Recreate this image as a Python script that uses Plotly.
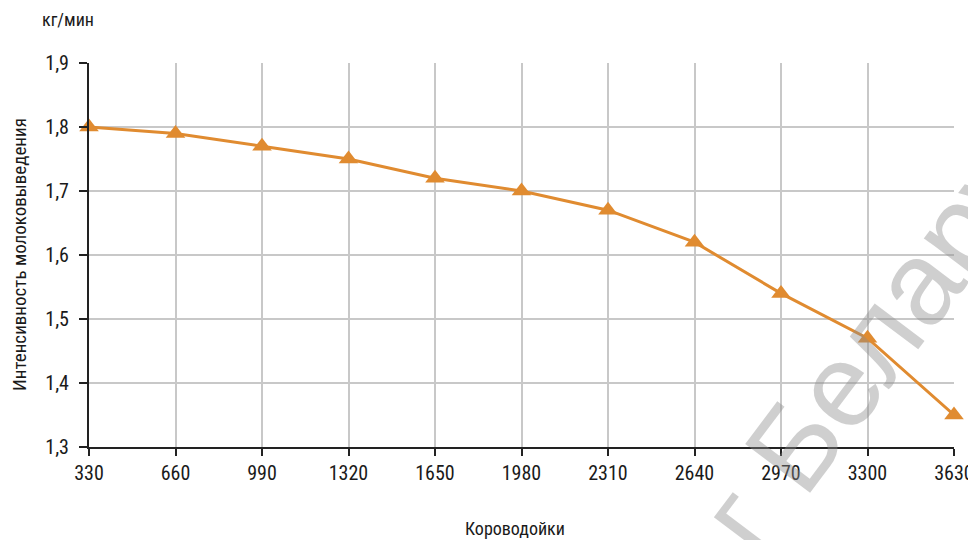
import plotly.graph_objects as go

categories = [330, 660, 990, 1320, 1650, 1980, 2310, 2640, 2970, 3300, 3630]
values = [1.80, 1.79, 1.77, 1.75, 1.72, 1.70, 1.67, 1.62, 1.54, 1.47, 1.35]
y_ticks = [1.3, 1.4, 1.5, 1.6, 1.7, 1.8, 1.9]

FONT = "Liberation Sans Narrow, Roboto Condensed, Arial Narrow, Roboto, sans-serif"
ORANGE = "#E08B30"

# the page body adds an 8px offset, so the figure is laid out 8px smaller
OFF = 8
W, H = 976 - OFF, 540 - OFF
L, R, T, B = 89 - OFF, 22, 63 - OFF, 93
ph = H - T - B
pw = W - L - R


def px(x):
    return (x - OFF - L) / pw


def py(y):
    return (H - B - (y - OFF)) / ph


fig = go.Figure()
fig.add_trace(go.Scatter(
    x=categories, y=values, mode="lines+markers",
    line=dict(color=ORANGE, width=3),
    marker=dict(symbol="triangle-up", size=17, color=ORANGE),
    cliponaxis=False, showlegend=False,
))

fig.update_layout(
    width=W, height=H,
    margin=dict(l=L, r=R, t=T, b=B, autoexpand=False),
    paper_bgcolor="white", plot_bgcolor="white",
    font=dict(family=FONT, size=20, color="#1a1a1a"),
    xaxis=dict(
        range=[330, 3630], tickvals=categories, ticktext=[str(c) for c in categories],
        showgrid=True, gridcolor="#c8c8c8", gridwidth=2,
        showline=True, linecolor="#222222", linewidth=2,
        ticks="outside", ticklen=7, tickwidth=2, tickcolor="#222222",
        zeroline=False, automargin=False,
    ),
    yaxis=dict(
        range=[1.3, 1.9], tickvals=y_ticks,
        ticktext=[f"{v:.1f}".replace(".", ",") for v in y_ticks],
        showgrid=True, gridcolor="#c8c8c8", gridwidth=2,
        showline=True, linecolor="#222222", linewidth=2,
        ticks="outside", ticklen=8, tickwidth=2, tickcolor="#222222",
        ticklabelstandoff=6,
        zeroline=False, automargin=False,
    ),
    annotations=[
        dict(text="кг/мин", xref="paper", yref="paper", x=px(40), y=py(19),
             xanchor="left", yanchor="middle", showarrow=False, font=dict(size=18)),
        dict(text="Короводойки", xref="paper", yref="paper", x=px(515), y=py(528),
             xanchor="center", yanchor="middle", showarrow=False, font=dict(size=18)),
        dict(text="Интенсивность молоковыведения", xref="paper", yref="paper",
             x=px(19), y=py(255), xanchor="center", yanchor="middle",
             showarrow=False, textangle=-90, font=dict(size=19)),
        dict(text="г Белару", xref="paper", yref="paper", x=px(868), y=py(348),
             xanchor="center", yanchor="middle", showarrow=False, textangle=-53,
             font=dict(size=118, family="Liberation Sans, Arial, sans-serif",
                       color="rgba(140,140,140,0.42)")),
    ],
)

fig.write_html("out.html")
